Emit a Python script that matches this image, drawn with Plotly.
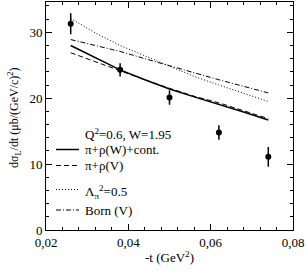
import plotly.graph_objects as go

# experimental data
t_data = [0.026, 0.038, 0.050, 0.062, 0.074]
sig_data = [31.3, 24.3, 20.1, 14.8, 11.1]
err_data = [1.6, 1.0, 1.1, 1.1, 1.5]

# model curves
t_curve = [0.026, 0.032, 0.038, 0.044, 0.050, 0.056, 0.062, 0.068, 0.074]
sig_full = [28.0, 26.1, 24.3, 22.8, 21.4, 20.2, 19.1, 17.9, 16.7]
sig_rhoV = [26.9, 25.5, 24.2, 22.8, 21.5, 20.3, 19.3, 18.1, 16.9]
sig_lam = [32.1, 29.9, 28.0, 26.4, 24.8, 23.3, 22.0, 20.7, 19.5]
sig_born = [28.9, 28.0, 27.1, 26.0, 24.9, 23.8, 22.8, 21.8, 20.8]

x_ticks = [0.02, 0.04, 0.06, 0.08]
x_ticktext = ["0,02", "0,04", "0,06", "0,08"]
y_ticks = [0, 10, 20, 30]

legend_title = "Q<sup>2</sup>=0.6, W=1.95"
names = ["\u03c0+\u03c1(W)+cont.", "\u03c0+\u03c1(V)",
         "\u039b<sub>\u03c0</sub><sup>2</sup>=0.5", "Born (V)"]
y_title = "d\u03c3<sub>L</sub>/dt (\u03bcb/(GeV/c)<sup>2</sup>)"

FONT = "Liberation Serif"
FS = 13

W, H = 307, 272
ML, MR, MT, MB = 46, 14, 2, 42
PW, PH = W - ML - MR, H - MT - MB


def px_x(px):
    return (px - ML) / PW


def px_y(py):
    return (H - MB - py) / PH


styles = [dict(color="black", width=1.5),
          dict(color="black", width=1, dash="5px,3px"),
          dict(color="black", width=1, dash="1px,2px"),
          dict(color="black", width=1, dash="5px,2px,1px,2px")]
curves = [sig_full, sig_rhoV, sig_lam, sig_born]

fig = go.Figure()
for nm, ys, st in zip(names, curves, styles):
    fig.add_trace(go.Scatter(x=t_curve, y=ys, mode="lines", name=nm,
                             line=st, showlegend=False))
fig.add_trace(go.Scatter(x=t_data, y=sig_data, mode="markers", showlegend=False,
                         marker=dict(color="black", size=6),
                         error_y=dict(type="data", array=err_data, color="black",
                                      thickness=1.5, width=0)))

# legend drawn manually for exact placement
row_y = [149.5, 165.5, 189.5, 210]
row_text_dy = [0, 0, 2, 0]
annotations = [dict(text=legend_title, xref="paper", yref="paper",
                    x=px_x(83), y=px_y(134), xanchor="left", yanchor="middle",
                    showarrow=False, font=dict(family=FONT, size=FS)),
               dict(text=y_title, xref="paper", yref="paper",
                    x=px_x(14), y=px_y(118), xanchor="center", yanchor="middle",
                    textangle=-90, showarrow=False,
                    font=dict(family=FONT, size=12))]
shapes = []
for nm, st, ry, dy in zip(names, styles, row_y, row_text_dy):
    shapes.append(dict(type="line", xref="paper", yref="paper",
                       x0=px_x(56), x1=px_x(79), y0=px_y(ry), y1=px_y(ry),
                       line=st))
    annotations.append(dict(text=nm, xref="paper", yref="paper",
                            x=px_x(83), y=px_y(ry + dy), xanchor="left",
                            yanchor="middle", showarrow=False,
                            font=dict(family=FONT, size=FS)))

fig.update_layout(
    width=W, height=H,
    margin=dict(l=ML, r=MR, t=MT, b=MB),
    paper_bgcolor="white", plot_bgcolor="white",
    font=dict(family=FONT, size=FS, color="black"),
    showlegend=False,
    annotations=annotations,
    shapes=shapes,
)
fig.update_xaxes(range=[0.02, 0.08], tickvals=x_ticks, ticktext=x_ticktext,
                 ticks="inside", ticklen=6, tickcolor="black", mirror="allticks",
                 showline=True, linecolor="black", linewidth=1, showgrid=False,
                 zeroline=False, automargin=False,
                 minor=dict(dtick=0.004, tick0=0.02, ticks="inside", ticklen=3,
                            tickcolor="black", showgrid=False),
                 title=dict(text="-t (GeV<sup>2</sup>)", standoff=4,
                            font=dict(family=FONT, size=FS)),
                 tickfont=dict(family=FONT, size=FS))
fig.update_yaxes(range=[0, 34.6], tickvals=y_ticks,
                 ticksuffix="\u00a0\u00a0\u00a0",
                 ticks="inside", ticklen=6, tickcolor="black", mirror="allticks",
                 showline=True, linecolor="black", linewidth=1, showgrid=False,
                 zeroline=False, automargin=False,
                 minor=dict(dtick=2, tick0=0, ticks="inside", ticklen=3,
                            tickcolor="black", showgrid=False),
                 tickfont=dict(family=FONT, size=FS))

fig.write_html("out.html",
               config={"displayModeBar": False},
               post_script="document.body.style.margin='0px';"
                           "document.body.style.overflow='hidden';")
